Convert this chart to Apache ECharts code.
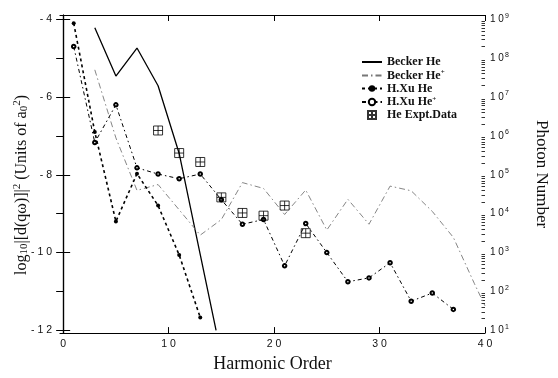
<!DOCTYPE html>
<html>
<head>
<meta charset="utf-8">
<script src="https://cdn.jsdelivr.net/npm/echarts@6/dist/echarts.min.js"></script>
<style>html,body{margin:0;padding:0;background:#fff;}#c{width:558px;height:378px;}</style>
</head>
<body>
<div id="c"></div>
<script>
// ---- data ----
var beckerHeX = [3, 5, 7, 9, 11, 13, 14.5];
var beckerHeY = [-4.22, -5.46, -4.74, -5.71, -7.45, -10.05, -12.0];

var beckerHePlusX = [3, 5, 7, 9, 11, 13, 15, 17, 19, 21, 23, 25, 27, 29, 31, 33, 35, 37, 39, 40];
var beckerHePlusY = [-5.3, -7.05, -8.4, -8.25, -8.9, -9.55, -9.15, -8.2, -8.35, -9.02, -8.39, -9.42, -8.63, -9.27, -8.29, -8.41, -8.94, -9.61, -10.8, -11.37];

var xuHeX = [1, 3, 5, 7, 9, 11, 13];
var xuHeY = [-4.1, -6.9, -9.2, -7.97, -8.79, -10.06, -11.67];

var xuHePlusX = [1, 3, 5, 7, 9, 11, 13, 15, 17, 19, 21, 23, 25, 27, 29, 31, 33, 35, 37];
var xuHePlusY = [-4.7, -7.17, -6.2, -7.82, -7.98, -8.1, -7.98, -8.64, -9.27, -9.15, -10.34, -9.25, -10.0, -10.75, -10.65, -10.26, -11.25, -11.04, -11.46];

var exptX = [9, 11, 13, 15, 17, 19, 21, 23];
var exptY = [-6.86, -7.44, -7.67, -8.58, -8.98, -9.05, -8.79, -9.5];

var xTicks = [0, 10, 20, 30, 40];
var leftTicks = [-12, -10, -8, -6, -4];
var rightTicks = [-12, -11, -10, -9, -8, -7, -6, -5, -4]; // 10^1 ... 10^9
var rightExpOffset = 13;

function zip(xs, ys) { return xs.map(function (x, i) { return [x, ys[i]]; }); }
function spaced(s) { return String(s).split('').join(' '); }

var minorTicks = [];
for (var d = -12; d < -4; d++) {
  for (var k = 2; k <= 9; k++) minorTicks.push(d + Math.log10(k));
}

var YMIN = -12.07, YMAX = -3.89, XMIN = -0.3, XMAX = 40;
var serif = "'Liberation Serif','DejaVu Serif',serif";
var sans = "'Liberation Sans','DejaVu Sans',sans-serif";

var chart = echarts.init(document.getElementById('c'), null, { renderer: 'canvas' });
var boxLine = { show: true, lineStyle: { color: '#000', width: 1.2 } };
var clear = 'rgba(0,0,0,0)';

chart.setOption({
  animation: false,
  backgroundColor: '#fff',
  grid: { left: 60, right: 65, top: 15, bottom: 39, containLabel: false },
  graphic: [{
    type: 'text', left: 12, top: 95, rotation: Math.PI / 2,
    style: {
      text: 'log{sub|10}|[d(qω)]|{sup|2} (Units of a{sub|0}{sup|2})',
      fontFamily: serif, fontSize: 16, fill: '#111',
      rich: {
        sub: { fontFamily: serif, fontSize: 11, padding: [6, 0, 0, 0] },
        sup: { fontFamily: serif, fontSize: 11, padding: [0, 0, 8, 0] }
      }
    }
  }],
  legend: {
    orient: 'vertical', left: 356, top: 51,
    itemWidth: 20, itemHeight: 8, itemGap: 1,
    textStyle: { fontFamily: serif, fontSize: 12, fontWeight: 'bold', color: '#111',
      rich: { sup: { fontFamily: serif, fontSize: 7, fontWeight: 'bold', padding: [0, 0, 6, 0] } } },
    formatter: function (n) { return n.replace('+', '{sup|+}'); },
    data: ['Becker He', 'Becker He+', 'H.Xu He', 'H.Xu He+', 'He Expt.Data']
  },
  xAxis: [{
    type: 'value', position: 'bottom', min: XMIN, max: XMAX,
    axisLine: boxLine,
    axisTick: { show: true, inside: true, length: 6, customValues: xTicks, lineStyle: { color: '#000' } },
    axisLabel: { customValues: xTicks, margin: 6, fontFamily: sans, fontSize: 10.5, color: '#111',
      formatter: function (v) { return spaced(v); } },
    splitLine: { show: false },
    name: 'Harmonic Order', nameLocation: 'middle', nameGap: 20,
    nameTextStyle: { fontFamily: serif, fontSize: 18, color: '#111' }
  }, {
    type: 'value', position: 'top', min: XMIN, max: XMAX,
    axisLine: boxLine,
    axisTick: { show: true, inside: true, length: 6, customValues: xTicks, lineStyle: { color: '#000' } },
    axisLabel: { show: false }, splitLine: { show: false }
  }],
  yAxis: [{
    type: 'value', position: 'left', min: YMIN, max: YMAX,
    axisLine: boxLine,
    axisTick: { show: true, inside: true, length: 7, customValues: leftTicks, lineStyle: { color: '#000' } },
    axisLabel: { customValues: leftTicks, margin: 8, fontFamily: sans, fontSize: 10.5, color: '#111',
      formatter: function (v) { return '- ' + spaced(Math.abs(v)); } },
    splitLine: { show: false }
  }, {
    type: 'value', position: 'right', min: YMIN, max: YMAX,
    axisLine: boxLine,
    axisTick: { show: true, inside: true, length: 7, customValues: rightTicks, lineStyle: { color: '#000' } },
    axisLabel: { customValues: rightTicks, margin: 5, fontFamily: sans, fontSize: 10, color: '#111',
      formatter: function (v) { return '1 0{sup|' + Math.round(v + rightExpOffset) + '}'; },
      rich: { sup: { fontFamily: sans, fontSize: 7, padding: [0, 0, 7, 1] } } },
    splitLine: { show: false },
    name: 'Photon Number', nameLocation: 'middle', nameGap: 48, nameRotate: -90,
    nameTextStyle: { fontFamily: serif, fontSize: 17, color: '#111' }
  }, {
    type: 'value', position: 'right', min: YMIN, max: YMAX,
    axisLine: { show: false },
    axisTick: { show: true, inside: true, length: 3.5, customValues: minorTicks, lineStyle: { color: '#000', width: 0.8 } },
    axisLabel: { show: false }, splitLine: { show: false }
  }],
  series: [{
    name: 'Becker He', type: 'line', data: zip(beckerHeX, beckerHeY),
    symbol: 'circle', showSymbol: false, lineStyle: { color: '#000', width: 1.3 },
    itemStyle: { color: clear }
  }, {
    name: 'Becker He+', type: 'line', data: zip(beckerHePlusX, beckerHePlusY),
    symbol: 'circle', showSymbol: false, lineStyle: { color: '#777', width: 0.9, type: [6, 3, 1.5, 3] },
    itemStyle: { color: clear }
  }, {
    name: 'H.Xu He', type: 'line', data: zip(xuHeX, xuHeY),
    symbol: 'circle', symbolSize: 4, showSymbol: true,
    lineStyle: { color: '#000', width: 1.6, type: [3, 3] }, itemStyle: { color: '#000' }
  }, {
    name: 'H.Xu He+', type: 'line', data: zip(xuHePlusX, xuHePlusY),
    symbol: 'emptyCircle', symbolSize: 3.5, showSymbol: true,
    lineStyle: { color: '#000', width: 1, type: [4, 3, 1.5, 3] },
    itemStyle: { color: '#000', borderColor: '#000', borderWidth: 1 }
  }, {
    name: 'He Expt.Data', type: 'scatter', data: zip(exptX, exptY), z: 5,
    symbol: 'path://M0,0L10,0L10,10L0,10Z M5,0L5,10 M0,5L10,5', symbolSize: 9,
    itemStyle: { color: 'rgba(255,255,255,0)', borderColor: '#000', borderWidth: 1 }
  }]
});
</script>
</body>
</html>
